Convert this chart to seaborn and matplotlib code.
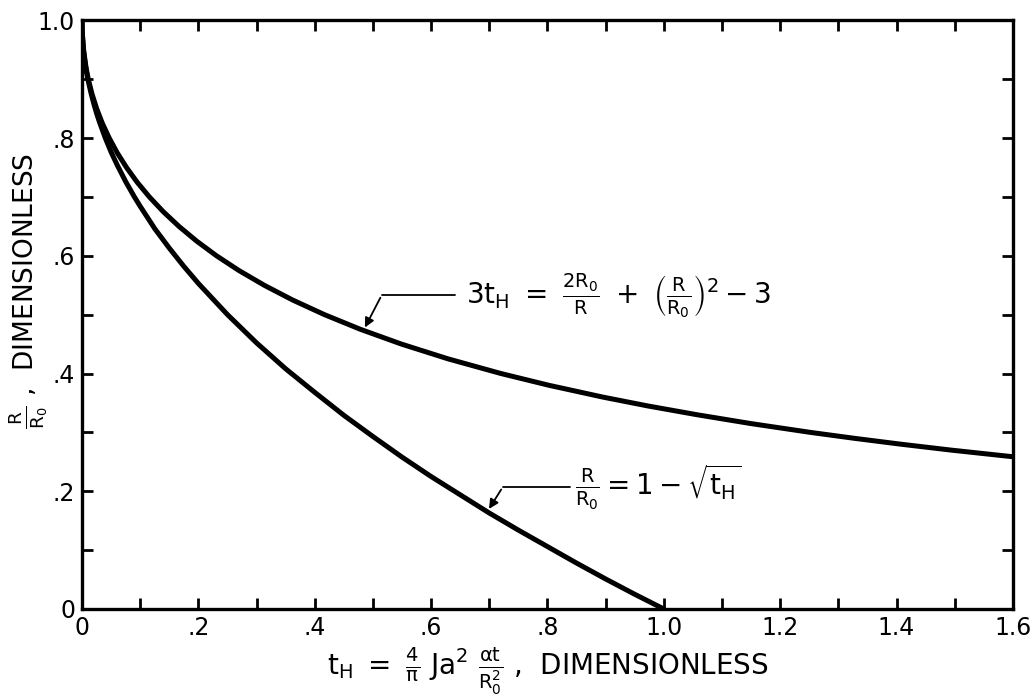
import matplotlib
matplotlib.use("Agg")
import matplotlib.pyplot as plt
import numpy as np
import pandas as pd
import seaborn as sns

sns.set_style("ticks")
plt.rcParams["font.family"] = ["DejaVu Sans"]
plt.rcParams["mathtext.fontset"] = "dejavusans"
plt.rcParams["mathtext.default"] = "regular"
plt.rcParams["font.size"] = 16
for k in ["text.color", "axes.labelcolor", "xtick.color", "ytick.color", "axes.edgecolor"]:
    plt.rcParams[k] = "black"

# curve: R/R0 = 1 - sqrt(tH)
t_lower = [0.0, 0.0002, 0.001, 0.003, 0.005, 0.0075, 0.01, 0.015, 0.02, 0.025, 0.03, 0.04,
           0.05, 0.06, 0.075, 0.09, 0.1, 0.125, 0.15, 0.175, 0.2, 0.25, 0.3, 0.35,
           0.4, 0.45, 0.5, 0.55, 0.6, 0.65, 0.7, 0.75, 0.8, 0.85, 0.9, 0.95, 1.0]
r_lower = [1.0, 0.986, 0.968, 0.945, 0.929, 0.913, 0.90, 0.878, 0.859, 0.842, 0.827, 0.80,
           0.776, 0.755, 0.726, 0.70, 0.684, 0.646, 0.613, 0.582, 0.553, 0.50, 0.452, 0.408,
           0.368, 0.329, 0.293, 0.258, 0.225, 0.194, 0.163, 0.134, 0.106, 0.078, 0.051, 0.025, 0.0]

# curve: 3tH = 2R0/R + (R/R0)^2 - 3
t_upper = [0.0, 0.0004, 0.0026, 0.0068, 0.0107, 0.0171, 0.0251, 0.0349, 0.0467, 0.0604,
           0.0764, 0.0947, 0.1157, 0.1395, 0.1665, 0.1969, 0.2311, 0.2696, 0.313, 0.3617,
           0.4167, 0.4787, 0.549, 0.6288, 0.72, 0.8025, 0.895, 0.972, 1.057, 1.1495,
           1.252, 1.327, 1.407, 1.493, 1.587, 1.606]
r_upper = [1.0, 0.98, 0.95, 0.92, 0.90, 0.875, 0.85, 0.825, 0.80, 0.775,
           0.75, 0.725, 0.70, 0.675, 0.65, 0.625, 0.60, 0.575, 0.55, 0.525,
           0.50, 0.475, 0.45, 0.425, 0.40, 0.38, 0.36, 0.345, 0.33, 0.315,
           0.30, 0.29, 0.28, 0.27, 0.26, 0.258]

x_ticks = [0, 0.2, 0.4, 0.6, 0.8, 1.0, 1.2, 1.4, 1.6]
x_labels = ["0", ".2", ".4", ".6", ".8", "1.0", "1.2", "1.4", "1.6"]
y_ticks = [0, 0.2, 0.4, 0.6, 0.8, 1.0]
y_labels = ["0", ".2", ".4", ".6", ".8", "1.0"]

df = pd.concat([
    pd.DataFrame({"t": t_lower, "r": r_lower, "curve": "lower"}),
    pd.DataFrame({"t": t_upper, "r": r_upper, "curve": "upper"}),
])

fig = plt.figure(figsize=(10.32, 7.0), dpi=100)
ax = fig.add_axes([0.0795, 0.13, 0.902, 0.841])

sns.lineplot(data=df, x="t", y="r", units="curve", estimator=None, sort=False,
             color="black", linewidth=3.6, ax=ax, legend=False)
for ln in ax.lines:
    ln.set_solid_joinstyle("round")
    ln.set_solid_capstyle("round")

ax.set_xlim(0, 1.6)
ax.set_ylim(0, 1.0)
ax.set_xticks(x_ticks)
ax.set_xticklabels(x_labels)
ax.set_yticks(y_ticks)
ax.set_yticklabels(y_labels)
ax.set_xticks(np.arange(0.1, 1.6, 0.2), minor=True)
ax.set_yticks(np.arange(0.1, 1.0, 0.2), minor=True)
ax.tick_params(which="both", direction="in", top=True, right=True, width=2, length=8)
ax.tick_params(axis="both", which="major", labelsize=17, pad=5)
for s in ax.spines.values():
    s.set_linewidth(2.4)

ax.set_xlabel(r"$t_H\ =\ \frac{4}{\pi}\ Ja^2\ \frac{\alpha t}{R_0^2}$ ,  DIMENSIONLESS",
              fontsize=20, labelpad=4)
ax.set_ylabel(r"$\frac{R}{R_0}$ ,  DIMENSIONLESS", fontsize=19)
ax.yaxis.set_label_coords(-0.034, 0.54)

# leader lines + labels
ax.plot([0.641, 0.515], [0.533, 0.533], color="black", linewidth=1.3)
ax.annotate("", xy=(0.484, 0.474), xytext=(0.515, 0.533),
            arrowprops=dict(arrowstyle="-|>", color="black", lw=1.3, mutation_scale=14))
ax.text(0.66, 0.533,
        r"$3t_H\ =\ \frac{2R_0}{R}\ +\ \left(\frac{R}{R_0}\right)^2 - 3$",
        fontsize=20, va="center", ha="left")

ax.plot([0.839, 0.723], [0.207, 0.207], color="black", linewidth=1.3)
ax.annotate("", xy=(0.697, 0.166), xytext=(0.723, 0.207),
            arrowprops=dict(arrowstyle="-|>", color="black", lw=1.3, mutation_scale=14))
ax.text(0.848, 0.207, r"$\frac{R}{R_0} = 1 - \sqrt{t_H}$",
        fontsize=20, va="center", ha="left")

fig.savefig("out.png", dpi=100)
